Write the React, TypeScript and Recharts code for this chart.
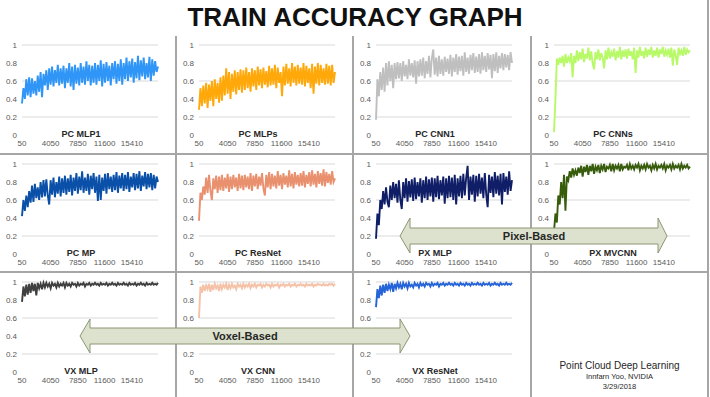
import { LineChart, Line, XAxis, YAxis, CartesianGrid } from "recharts";

// training iterations (x) shared by all panels
const steps = [
  50, 250, 450, 650, 850, 1050, 1250, 1450, 1650, 1850,
  2050, 2250, 2450, 2650, 2850, 3050, 3250, 3450, 3650, 3850,
  4050, 4250, 4450, 4650, 4850, 5050, 5250, 5450, 5650, 5850,
  6050, 6250, 6450, 6650, 6850, 7050, 7250, 7450, 7650, 7850,
  8050, 8250, 8450, 8650, 8850, 9050, 9250, 9450, 9650, 9850,
  10050, 10250, 10450, 10650, 10850, 11050, 11250, 11450, 11650, 11850,
  12050, 12250, 12450, 12650, 12850, 13050, 13250, 13450, 13650, 13850,
  14050, 14250, 14450, 14650, 14850, 15050, 15250, 15450, 15650, 15850,
  16050, 16250, 16450, 16650, 16850, 17050, 17250, 17450, 17650, 17850,
  18050, 18250, 18450, 18650, 18850, 19050,
];
const xTicks = [50, 4050, 7850, 11600, 15410];
const yTicks = [0, 20, 40, 60, 80, 100];

// accuracy in percent
const pcMlp1 = [
  35, 52, 40, 62, 44, 64,
  42, 63, 46, 60, 44, 66, 48, 70, 42, 68,
  55, 72, 50, 74, 56, 76, 54, 72, 58, 78, 55, 74, 57, 77, 52,
  74, 58, 80, 54, 76, 50, 78, 57, 75, 55, 80, 58, 76, 56, 82, 60, 78, 55, 77, 58,
  80, 56, 78, 60, 83, 54, 79, 58, 81, 60, 77, 55, 80, 62, 82, 57, 79, 60, 84, 56,
  80, 62, 86, 60, 82, 64, 85, 58, 81, 63, 88, 61, 83, 65, 86, 62, 80, 64, 87, 60, 84, 66, 82, 70, 76,
];
const pcMlps = [
  28, 52, 32, 55, 35, 58,
  30, 56, 38, 60, 32, 62, 40, 58, 36, 64,
  38, 66, 44, 74, 46, 70, 40, 68, 48, 72, 45, 70, 50, 73, 47,
  72, 50, 75, 52, 70, 48, 74, 54, 72, 50, 76, 55, 73, 52, 75, 56, 71, 53, 77, 55,
  74, 56, 78, 52, 75, 58, 70, 43, 76, 55, 79, 57, 74, 54, 80, 58, 76, 55, 78, 57,
  75, 56, 80, 54, 77, 58, 74, 52, 79, 46, 76, 57, 80, 55, 78, 58, 74, 56, 79, 57, 77, 55, 78, 58, 70,
];
const pcCnn1 = [
  17, 62, 43, 70, 50, 75,
  48, 80, 55, 82, 60, 78, 52, 80, 62, 81,
  63, 80, 60, 82, 65, 78, 62, 84, 66, 80, 64, 83, 57, 82, 65,
  84, 66, 86, 63, 82, 68, 88, 64, 85, 95, 67, 86, 65, 88, 68, 84, 66, 87, 70, 85,
  68, 89, 65, 86, 70, 90, 67, 87, 71, 88, 66, 92, 70, 86, 68, 89, 72, 91, 69, 87,
  70, 90, 68, 92, 72, 88, 70, 91, 73, 89, 63, 90, 71, 92, 69, 88, 74, 91, 72, 90, 75, 89, 72, 92, 80,
];
const pcCnns = [
  3, 40, 85, 78, 86, 80,
  88, 76, 90, 80, 86, 82, 91, 64, 88, 80,
  94, 82, 92, 84, 96, 81, 90, 85, 97, 83, 93, 80, 73, 92, 84,
  95, 83, 91, 86, 74, 94, 84, 97, 85, 92, 87, 96, 83, 93, 86, 98, 84, 94, 87, 95,
  85, 96, 88, 93, 84, 97, 69, 94, 86, 98, 88, 93, 85, 97, 87, 95, 89, 98, 86, 94,
  88, 97, 86, 95, 90, 98, 87, 94, 89, 96, 86, 97, 77, 95, 88, 78, 97, 90, 94, 88, 98, 89, 95, 92, 94,
];
const pcMp = [
  42, 60, 48, 65, 52, 70,
  57, 76, 58, 78, 62, 74, 60, 80, 63, 82,
  64, 83, 65, 55, 82, 66, 85, 63, 80, 67, 86, 64, 84, 68, 87,
  66, 84, 69, 88, 65, 85, 70, 90, 67, 86, 71, 92, 68, 85, 70, 89, 66, 87, 72, 90,
  68, 86, 59, 88, 60, 85, 70, 89, 67, 90, 72, 86, 69, 88, 71, 91, 68, 87, 73, 90,
  70, 88, 72, 91, 69, 86, 74, 90, 71, 89, 73, 92, 70, 87, 75, 91, 72, 89, 74, 90, 71, 88, 73, 86, 80,
];
const pcResNet = [
  37, 68, 60, 75, 66, 85,
  68, 88, 70, 60, 84, 72, 87, 68, 86, 71,
  88, 70, 85, 73, 89, 69, 86, 72, 88, 74, 85, 70, 89, 73, 87,
  71, 88, 74, 86, 72, 90, 70, 87, 75, 89, 72, 86, 76, 90, 73, 65, 88, 74, 91, 72,
  89, 75, 87, 73, 92, 76, 88, 72, 90, 77, 87, 74, 93, 75, 89, 73, 91, 77, 88, 75,
  90, 76, 92, 74, 88, 78, 91, 75, 93, 77, 89, 74, 92, 78, 90, 76, 94, 75, 91, 79, 89, 77, 92, 80, 84,
];
const pxMlp = [
  17, 45, 32, 60, 50, 70,
  55, 74, 58, 52, 76, 60, 80, 62, 78, 57,
  82, 60, 50, 80, 62, 84, 58, 81, 63, 83, 59, 85, 61, 80, 64,
  84, 57, 82, 62, 86, 60, 83, 64, 85, 58, 84, 63, 87, 61, 82, 65, 86, 56, 84, 62,
  87, 63, 85, 60, 88, 55, 84, 64, 87, 62, 89, 65, 85, 98, 60, 86, 66, 88, 58, 87,
  64, 89, 67, 85, 62, 90, 66, 52, 88, 68, 86, 63, 91, 67, 87, 65, 89, 55, 90, 69, 86, 66, 92, 70, 82,
];
const pxMvcnn = [
  25, 45, 35, 65, 55, 80,
  62, 88, 48, 86, 82, 92, 85, 95, 88, 93,
  87, 96, 90, 98, 86, 97, 91, 99, 88, 98, 92, 100, 89, 97, 93,
  99, 90, 98, 94, 100, 91, 97, 95, 99, 92, 100, 93, 98, 95, 99, 92, 100, 94, 97, 96,
  99, 93, 100, 95, 98, 94, 99, 96, 100, 93, 98, 95, 99, 94, 100, 96, 98, 93, 99, 95,
  100, 94, 98, 96, 99, 95, 100, 93, 98, 96, 99, 94, 100, 95, 98, 96, 99, 94, 100, 95, 98, 96, 99, 95, 97,
];
const vxMlp = [
  78, 95, 84, 97, 86, 98,
  88, 99, 90, 98, 85, 99, 93, 98, 92, 99,
  94, 99, 95, 98, 93, 99, 96, 98, 94, 99, 95, 98, 96, 99, 94,
  99, 96, 98, 95, 99, 97, 98, 95, 99, 96, 98, 97, 99, 95, 98, 97, 99, 96, 98, 97,
  99, 97, 98, 96, 99, 97, 98, 97, 99, 96, 98, 97, 99, 97, 98, 96, 99, 97, 98, 97,
  99, 97, 98, 96, 99, 97, 98, 97, 99, 96, 98, 97, 99, 97, 98, 96, 99, 97, 98, 97, 99, 97, 98, 97, 99,
];
const vxCnn = [
  60, 95, 88, 97, 90, 96,
  92, 98, 89, 97, 91, 98, 93, 96, 90, 98,
  92, 97, 94, 98, 91, 97, 93, 98, 94, 96, 92, 98, 95, 97, 93,
  98, 94, 97, 95, 98, 93, 97, 95, 98, 94, 97, 96, 98, 94, 97, 95, 98, 96, 97, 94,
  98, 95, 97, 96, 98, 94, 97, 96, 98, 95, 97, 96, 98, 95, 97, 96, 98, 95, 97, 96,
  98, 96, 97, 95, 98, 96, 97, 96, 98, 95, 97, 96, 98, 97, 97, 96, 98, 96, 97, 96, 98, 97, 98, 96, 98,
];
const vxResNet = [
  72, 92, 82, 96, 85, 97,
  88, 98, 90, 97, 92, 99, 89, 98, 93, 99,
  94, 98, 92, 99, 95, 98, 93, 99, 95, 97, 94, 99, 96, 98, 94,
  99, 96, 98, 95, 99, 97, 98, 95, 99, 96, 98, 97, 99, 95, 98, 97, 99, 96, 98, 97,
  99, 97, 98, 96, 99, 97, 98, 96, 99, 97, 98, 96, 99, 97, 98, 96, 99, 97, 98, 97,
  99, 97, 98, 96, 99, 97, 98, 97, 99, 96, 98, 97, 99, 97, 98, 96, 99, 97, 98, 97, 99, 97, 98, 97, 99,
];

const panels = [
  { title: "PC MLP1", values: pcMlp1, color: "#2F95F7", col: 0, row: 0 },
  { title: "PC MLPs", values: pcMlps, color: "#FFA80A", col: 1, row: 0 },
  { title: "PC CNN1", values: pcCnn1, color: "#BFBFBF", col: 2, row: 0 },
  { title: "PC CNNs", values: pcCnns, color: "#B8F968", col: 3, row: 0 },
  { title: "PC MP", values: pcMp, color: "#0A50A8", col: 0, row: 1 },
  { title: "PC ResNet", values: pcResNet, color: "#E9906E", col: 1, row: 1 },
  { title: "PX MLP", values: pxMlp, color: "#0F1E66", col: 2, row: 1 },
  { title: "PX MVCNN", values: pxMvcnn, color: "#375C0C", col: 3, row: 1 },
  { title: "VX MLP", values: vxMlp, color: "#3F3F3F", col: 0, row: 2 },
  { title: "VX CNN", values: vxCnn, color: "#F5C2A8", col: 1, row: 2 },
  { title: "VX ResNet", values: vxResNet, color: "#2563D8", col: 2, row: 2 },
];

const colLeft = [0, 177, 354, 532];
const rowTop = [36, 155, 273];
const PW = 175;
const PH = 117;
const tickFont = { fontSize: 8, fill: "#595959", fontFamily: "Liberation Sans, Arial, sans-serif" };

function Panel({ title, values, color, left, top }: any) {
  const data = steps.map((step, i) => ({ step, acc: values[i] }));
  return (
    <div style={{ position: "absolute", left, top, width: PW, height: PH }}>
      <LineChart width={PW} height={PH} data={data} margin={{ top: 9, right: 17, bottom: 0, left: 0 }}>
        <CartesianGrid vertical={false} stroke="#D9D9D9" horizontalValues={[20, 40, 60, 80, 100]} />
        <XAxis
          dataKey="step"
          type="number"
          domain={[50, 19050]}
          ticks={xTicks}
          interval={0}
          axisLine={false}
          tickLine={false}
          tickSize={0}
          tickMargin={5}
          height={18}
          tick={tickFont}
        />
        <YAxis
          domain={[0, 100]}
          ticks={yTicks}
          tickFormatter={(v: number) => String(v / 100)}
          axisLine={false}
          tickLine={false}
          tickSize={0}
          tickMargin={5}
          width={22}
          tick={tickFont}
        />
        <Line
          type="linear"
          dataKey="acc"
          stroke={color}
          strokeWidth={1.9}
          strokeLinejoin="miter"
          dot={false}
          isAnimationActive={false}
        />
      </LineChart>
      <div
        style={{
          position: "absolute",
          left: 81,
          top: 98,
          transform: "translate(-50%, -50%)",
          whiteSpace: "nowrap",
          fontFamily: "Liberation Sans, Arial, sans-serif",
          fontWeight: "bold",
          fontSize: 9,
          lineHeight: "9px",
          color: "#262626",
        }}
      >
        {title}
      </div>
    </div>
  );
}

const sep = "#A6A6A6";

export default function App() {
  return (
    <div
      style={{
        position: "absolute",
        left: 0,
        top: 0,
        width: 710,
        height: 397,
        background: "#fff",
        overflow: "hidden",
        fontFamily: "Liberation Sans, Arial, sans-serif",
      }}
    >
      <div
        style={{
          position: "absolute",
          left: 0,
          top: 0,
          width: 710,
          height: 36,
          lineHeight: "35px",
          textAlign: "center",
          fontSize: 26,
          fontWeight: "bold",
          color: "#111",
        }}
      >
        TRAIN ACCURACY GRAPH
      </div>

      {panels.map((p) => (
        <Panel key={p.title} {...p} left={colLeft[p.col]} top={rowTop[p.row]} />
      ))}

      {/* panel separators */}
      <div style={{ position: "absolute", left: 0, top: 153, width: 709, height: 2, background: sep }} />
      <div style={{ position: "absolute", left: 0, top: 271, width: 709, height: 2, background: sep }} />
      <div style={{ position: "absolute", left: 175, top: 36, width: 2, height: 361, background: sep }} />
      <div style={{ position: "absolute", left: 352, top: 36, width: 2, height: 361, background: sep }} />
      <div style={{ position: "absolute", left: 530, top: 36, width: 2, height: 361, background: sep }} />
      <div style={{ position: "absolute", left: 707, top: 0, width: 2, height: 397, background: sep }} />

      {/* annotation arrows */}
      <svg width={710} height={397} style={{ position: "absolute", left: 0, top: 0, pointerEvents: "none" }}>
        <polygon
          points="400,236 410,218 410,228 658,228 658,218 667,236 658,253 658,244 410,244 410,253"
          fill="#DCE2CD"
          stroke="#8C9674"
          strokeWidth={1}
        />
        <text x={534} y={240} textAnchor="middle" fontSize={11} fontWeight="bold" fill="#262626" fontFamily="Liberation Sans, Arial, sans-serif">
          Pixel-Based
        </text>
        <polygon
          points="80,336 90,319 90,328 400,328 400,319 410,336 400,353 400,344 90,344 90,353"
          fill="#DCE2CD"
          stroke="#8C9674"
          strokeWidth={1}
        />
        <text x={245} y={340} textAnchor="middle" fontSize={11} fontWeight="bold" fill="#262626" fontFamily="Liberation Sans, Arial, sans-serif">
          Voxel-Based
        </text>
      </svg>

      <div style={{ position: "absolute", left: 532, top: 359, width: 175, textAlign: "center", color: "#262626" }}>
        <div style={{ fontSize: 10, lineHeight: "13px" }}>Point Cloud Deep Learning</div>
        <div style={{ fontSize: 7.5, lineHeight: "10px" }}>Innfarn Yoo, NVIDIA</div>
        <div style={{ fontSize: 7.5, lineHeight: "9px" }}>3/29/2018</div>
      </div>
    </div>
  );
}
